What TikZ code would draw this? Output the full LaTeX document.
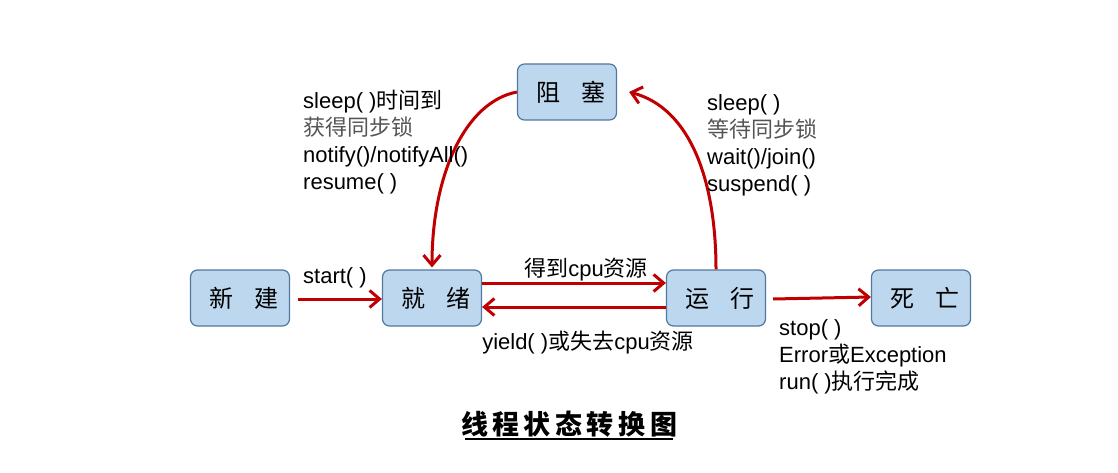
\documentclass[tikz,border=0pt]{standalone}
\usepackage{fontspec}
\setmainfont{Liberation Sans}
\newfontfamily\cjk{Noto Sans CJK SC}
\newcommand{\zh}[1]{{\cjk #1}}
\usetikzlibrary{arrows.meta}
\definecolor{arrred}{RGB}{192,0,0}
\definecolor{boxfill}{RGB}{189,215,238}
\definecolor{boxline}{RGB}{80,120,160}
\definecolor{graytxt}{RGB}{85,85,85}
\begin{document}
\begin{tikzpicture}[x=1pt,y=-1pt,
  state/.style={draw=boxline, line width=1.2pt, fill=boxfill, rounded corners=7pt,
    minimum width=99pt, minimum height=56pt, inner sep=0pt, font=\cjk\fontsize{24}{24}\selectfont},
  conn/.style={draw=arrred, line width=3pt, -{Straight Barb[length=10pt,width=17pt,line width=3pt]}},
  lbl/.style={font=\fontsize{22}{27}\selectfont, inner sep=0pt, text=black},
  blk/.style={lbl, align=left, anchor=north west}
]
\useasboundingbox (0,0) rectangle (1118,473);
\node[state] (new) at (240,298) {\hspace*{8pt}新\hspace{0.9em}建};
\node[state] (ready) at (432,298) {\hspace*{8pt}就\hspace{0.9em}绪};
\node[state] (run) at (716,298) {\hspace*{8pt}运\hspace{0.9em}行};
\node[state] (dead) at (921,298) {\hspace*{8pt}死\hspace{0.9em}亡};
\node[state] (block) at (567,92) {\hspace*{8pt}阻\hspace{0.9em}塞};

\coordinate (s1) at (298,299);
\draw[conn] (s1) -- (ready.west |- s1);
\draw[conn] ([yshift=15pt]ready.east) -- ([yshift=15pt]run.west);
\draw[conn] ([yshift=-9pt]run.west) -- ([yshift=-9pt]ready.east);
\coordinate (s2) at (773,299);
\draw[conn] (s2) -- ([yshift=1pt]dead.west);
\draw[conn] (block.west) .. controls (465,102) and (432,175) .. ([yshift=2pt]ready.north);
\draw[conn] (run.north) .. controls (716,180) and (690,108) .. ([xshift=12pt]block.east);

\node[lbl, anchor=west] (lstart) at (303,278) {start( )};
\node[lbl] (lget) at (586,270) {\zh{得到}cpu\zh{资源}};
\node[lbl] (lyield) at (588,343) {yield( )\zh{或失去}cpu\zh{资源}};
\node[blk] (lstop) at (779,319) {stop( )\\Error\zh{或}Exception\\run( )\zh{执行完成}};
\node[blk] (lleft) at (303,90) {sleep( )\zh{时间到}\\\textcolor{graytxt}{\zh{获得同步锁}}\\notify()/notifyAll()\\resume( )};
\node[blk] (lright) at (707,94) {sleep( )\\\textcolor{graytxt}{\zh{等待同步锁}}\\wait()/join()\\suspend( )};
\node[font=\cjk\bfseries\fontsize{27}{27}\selectfont, inner sep=0pt] (title) at (569,424) {线\,程\,状\,态\,转\,换\,图};
\draw[line width=1.8pt] (465,439) -- (673,439);
\end{tikzpicture}
\end{document}
